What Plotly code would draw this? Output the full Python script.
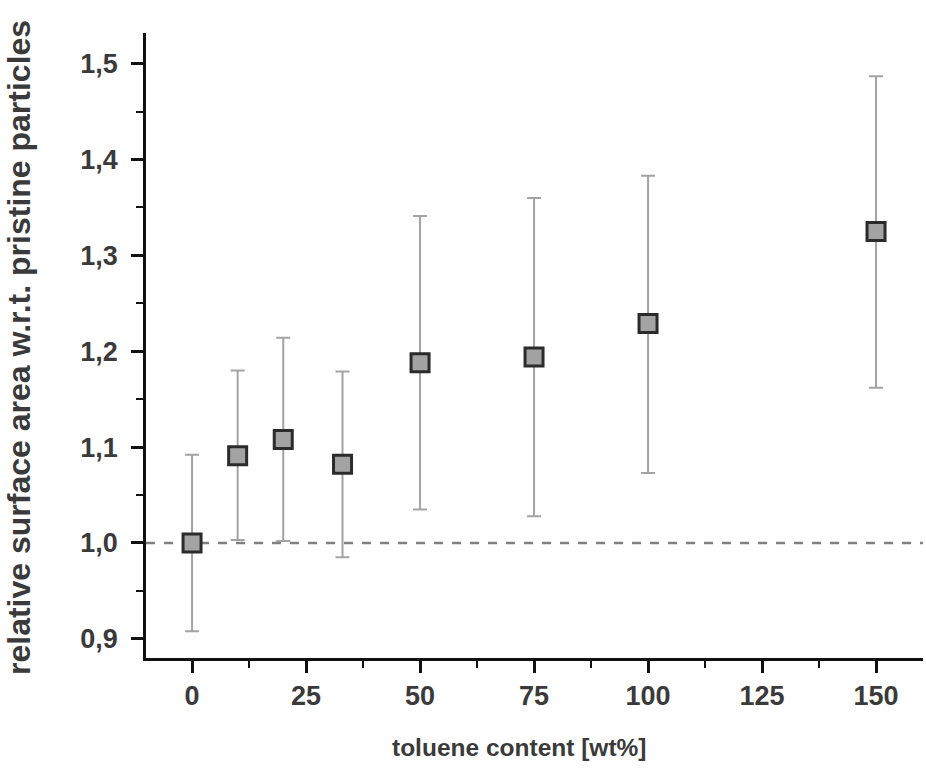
import plotly.graph_objects as go

toluene = [0, 10, 20, 33, 50, 75, 100, 150]
rel_area = [1.000, 1.091, 1.108, 1.082, 1.188, 1.194, 1.229, 1.325]
err_upper = [1.092, 1.180, 1.214, 1.179, 1.341, 1.360, 1.383, 1.487]
err_lower = [0.908, 1.003, 1.002, 0.985, 1.035, 1.028, 1.073, 1.162]

x_ticks = [0, 25, 50, 75, 100, 125, 150]
y_ticks = [0.9, 1.0, 1.1, 1.2, 1.3, 1.4, 1.5]
reference_level = 1.0
x_title = "toluene content [wt%]"
y_title = "relative surface area w.r.t. pristine particles"

plus = [u - v for u, v in zip(err_upper, rel_area)]
minus = [v - l for v, l in zip(rel_area, err_lower)]

font_fam = "Liberation Sans, Arial, sans-serif"
txt_col = "#3a3a3a"
x_range = [-10.1, 160.3]

W, H = 926, 769
ML, MR, MT, MB = 146, 3, 33, 111
PW, PH = W - ML - MR, H - MT - MB

fig = go.Figure()
fig.add_trace(go.Scatter(
    x=x_range, y=[reference_level, reference_level], mode="lines",
    line=dict(color="#808080", width=2.5, dash="dash"),
    hoverinfo="skip", showlegend=False))
fig.add_trace(go.Scatter(
    x=toluene, y=rel_area, mode="markers",
    marker=dict(symbol="square", size=18, color="#a3a3a3",
                line=dict(color="#2b2b2b", width=3)),
    error_y=dict(type="data", symmetric=False, array=plus, arrayminus=minus,
                 color="#a3a3a3", thickness=2, width=7),
    showlegend=False))

axis_common = dict(
    showline=True, linecolor="#111111", linewidth=2.7, mirror=False,
    ticks="outside", ticklen=12, tickwidth=2.5, tickcolor="#111111",
    showgrid=False, zeroline=False,
    tickfont=dict(family=font_fam, size=27, color=txt_col, weight="bold"),
)

fig.update_layout(
    width=W, height=H,
    margin=dict(l=ML, r=MR, t=MT, b=MB),
    paper_bgcolor="white", plot_bgcolor="white",
    separators=", ",
    font=dict(family=font_fam, color=txt_col),
    xaxis=dict(**axis_common, range=x_range, tickvals=x_ticks,
               minor=dict(ticks="outside", ticklen=7, tickwidth=2, tickcolor="#111111", dtick=12.5, tick0=0)),
    yaxis=dict(**axis_common, range=[0.880, 1.532], tickvals=y_ticks, tickformat=".1f",
               ticklabelstandoff=8,
               minor=dict(ticks="outside", ticklen=7, tickwidth=2, tickcolor="#111111", dtick=0.05, tick0=0.9)),
    annotations=[
        dict(text=x_title, xref="paper", yref="paper",
             x=(519 - ML) / PW, y=(MT + PH - 748) / PH, xanchor="center", yanchor="middle",
             showarrow=False,
             font=dict(family=font_fam, size=24.5, color=txt_col, weight="bold")),
        dict(text=y_title, xref="paper", yref="paper", textangle=-90,
             x=(19 - ML) / PW, y=(MT + PH - 348) / PH, xanchor="center", yanchor="middle",
             showarrow=False,
             font=dict(family=font_fam, size=32, color=txt_col, weight="bold")),
    ],
)

fig.write_html("out.html")
